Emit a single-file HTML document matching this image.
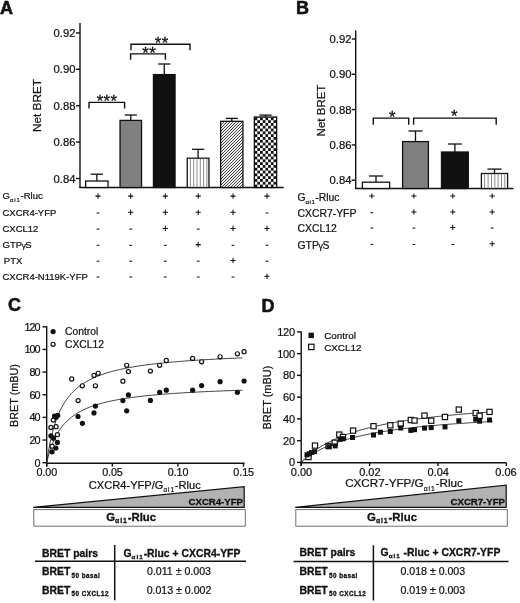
<!DOCTYPE html>
<html><head><meta charset="utf-8"><title>Figure</title>
<style>
html,body{margin:0;padding:0;background:#fff;}
body{width:520px;height:603px;overflow:hidden;font-family:"Liberation Sans",sans-serif;}
svg{display:block;will-change:transform;font-family:"Liberation Sans",sans-serif;fill:#111;}
text{stroke:#111;stroke-width:0.22px;}
</style></head><body>
<svg width="520" height="603" viewBox="0 0 520 603">
<defs>
<pattern id="vl" width="3" height="3" patternUnits="userSpaceOnUse"><rect width="3" height="3" fill="#fff"/><rect x="0" y="0" width="1" height="3" fill="#222"/></pattern>
<pattern id="dg" width="3" height="3" patternUnits="userSpaceOnUse" patternTransform="translate(0.86,0)"><rect width="3" height="3" fill="#fff"/><path d="M-0.75,0.75 L0.75,-0.75 M-0.5,3.5 L3.5,-0.5 M2.25,3.75 L3.75,2.25" stroke="#111" stroke-width="0.92"/></pattern>
<pattern id="ck" width="5.4" height="5.6" patternUnits="userSpaceOnUse" patternTransform="translate(254.65,117.4)"><rect width="5.4" height="5.6" fill="#fff"/><rect x="0" y="0" width="2.7" height="2.8" fill="#111"/><rect x="2.7" y="2.8" width="2.7" height="2.8" fill="#111"/></pattern>
</defs>
<rect width="520" height="603" fill="#fff"/>

<text x="0" y="14" font-size="18" text-anchor="start" font-weight="bold"  style="stroke-width:0.55px">A</text>
<text x="296" y="14" font-size="18" text-anchor="start" font-weight="bold"  style="stroke-width:0.55px">B</text>
<text x="8" y="311.4" font-size="18" text-anchor="start" font-weight="bold"  style="stroke-width:0.55px">C</text>
<text x="261.4" y="311.5" font-size="18" text-anchor="start" font-weight="bold"  style="stroke-width:0.55px">D</text>
<line x1="80" y1="23" x2="80" y2="188.1" stroke="#111" stroke-width="1.4" />
<line x1="79.4" y1="187.5" x2="283.7" y2="187.5" stroke="#111" stroke-width="1.4" />
<line x1="76" y1="32.899999999999864" x2="80" y2="32.899999999999864" stroke="#111" stroke-width="1.4" />
<text x="75.5" y="36.899999999999864" font-size="11.3" text-anchor="end" font-weight="normal" >0.92</text>
<line x1="76" y1="69.2999999999999" x2="80" y2="69.2999999999999" stroke="#111" stroke-width="1.4" />
<text x="75.5" y="73.2999999999999" font-size="11.3" text-anchor="end" font-weight="normal" >0.90</text>
<line x1="76" y1="105.69999999999993" x2="80" y2="105.69999999999993" stroke="#111" stroke-width="1.4" />
<text x="75.5" y="109.69999999999993" font-size="11.3" text-anchor="end" font-weight="normal" >0.88</text>
<line x1="76" y1="142.09999999999997" x2="80" y2="142.09999999999997" stroke="#111" stroke-width="1.4" />
<text x="75.5" y="146.09999999999997" font-size="11.3" text-anchor="end" font-weight="normal" >0.86</text>
<line x1="76" y1="178.5" x2="80" y2="178.5" stroke="#111" stroke-width="1.4" />
<text x="75.5" y="182.5" font-size="11.3" text-anchor="end" font-weight="normal" >0.84</text>
<text transform="translate(40.5,105.5) rotate(-90)" font-size="11.8" text-anchor="middle">Net BRET</text>
<line x1="96.85" y1="174.2" x2="96.85" y2="181" stroke="#111" stroke-width="1.3" />
<line x1="90.75" y1="174.2" x2="102.94999999999999" y2="174.2" stroke="#111" stroke-width="1.3" />
<rect x="85.65" y="181" width="22.39999999999999" height="6.5" fill="#fff" stroke="#111" stroke-width="1.3"/>
<line x1="130.8" y1="115" x2="130.8" y2="120.4" stroke="#111" stroke-width="1.3" />
<line x1="124.70000000000002" y1="115" x2="136.9" y2="115" stroke="#111" stroke-width="1.3" />
<rect x="120.05" y="120.4" width="21.500000000000014" height="67.1" fill="#808080" stroke="#111" stroke-width="1.3"/>
<line x1="164.25" y1="64" x2="164.25" y2="74.6" stroke="#111" stroke-width="1.3" />
<line x1="158.15" y1="64" x2="170.35" y2="64" stroke="#111" stroke-width="1.3" />
<rect x="153.45" y="74.6" width="21.600000000000023" height="112.9" fill="#111" stroke="#111" stroke-width="1.3"/>
<line x1="198.1" y1="149.3" x2="198.1" y2="158.2" stroke="#111" stroke-width="1.3" />
<line x1="192.0" y1="149.3" x2="204.2" y2="149.3" stroke="#111" stroke-width="1.3" />
<rect x="187.25" y="158.2" width="21.69999999999999" height="29.30000000000001" fill="#fff" stroke="#111" stroke-width="1.3"/>
<line x1="190.4" y1="158.2" x2="190.4" y2="187.5" stroke="#777" stroke-width="0.85"/>
<line x1="193.7" y1="158.2" x2="193.7" y2="187.5" stroke="#777" stroke-width="0.85"/>
<line x1="197" y1="158.2" x2="197" y2="187.5" stroke="#777" stroke-width="0.85"/>
<line x1="200.3" y1="158.2" x2="200.3" y2="187.5" stroke="#777" stroke-width="0.85"/>
<line x1="203.6" y1="158.2" x2="203.6" y2="187.5" stroke="#777" stroke-width="0.85"/>
<line x1="206.9" y1="158.2" x2="206.9" y2="187.5" stroke="#777" stroke-width="0.85"/>
<line x1="231.8" y1="118.4" x2="231.8" y2="121.3" stroke="#111" stroke-width="1.3" />
<line x1="225.70000000000002" y1="118.4" x2="237.9" y2="118.4" stroke="#111" stroke-width="1.3" />
<rect x="220.65" y="121.3" width="22.299999999999983" height="66.2" fill="url(#dg)" stroke="#111" stroke-width="1.3"/>
<line x1="265.5" y1="115.1" x2="265.5" y2="117" stroke="#111" stroke-width="1.3" />
<line x1="259.4" y1="115.1" x2="271.6" y2="115.1" stroke="#111" stroke-width="1.3" />
<rect x="254.35" y="117" width="22.299999999999983" height="70.5" fill="url(#ck)" stroke="#111" stroke-width="1.3"/>
<path d="M89,108.4 L89,102.4 L124.6,102.4 L124.6,108.4" fill="none" stroke="#111" stroke-width="1.4"/>
<text x="107" y="107" font-size="16.8" text-anchor="middle" font-weight="normal" letter-spacing="0.3" style="stroke-width:0.3px">***</text>
<path d="M131,50.3 L131,44.3 L190,44.3 L190,50.3" fill="none" stroke="#111" stroke-width="1.4"/>
<text x="161.7" y="49.4" font-size="16.8" text-anchor="middle" font-weight="normal" letter-spacing="0.3" style="stroke-width:0.3px">**</text>
<path d="M130.6,59.699999999999996 L130.6,53.9 L165.4,53.9 L165.4,59.699999999999996" fill="none" stroke="#111" stroke-width="1.4"/>
<text x="149.2" y="59.1" font-size="16.8" text-anchor="middle" font-weight="normal" letter-spacing="0.3" style="stroke-width:0.3px">**</text>
<text transform="translate(2.5,199.3) scale(1,1)" font-size="9.5">G<tspan font-size="0.62em" dy="2.2" letter-spacing="0.9">&#945;i1</tspan><tspan dy="-2.2">-Rluc</tspan></text>
<text transform="translate(2.5,215.5) scale(1,1)" font-size="9.5">CXCR4-YFP</text>
<text transform="translate(2.5,231.60000000000002) scale(1,1)" font-size="9.5">CXCL12</text>
<text transform="translate(2.5,247.8) scale(1,1)" font-size="9.5">GTP<tspan font-size="0.85em" dx="-0.3">&#947;</tspan><tspan dx="-0.4">S</tspan></text>
<text transform="translate(3.8,263.7) scale(1,1)" font-size="9.5">PTX</text>
<text transform="translate(2.5,279.5) scale(1,1)" font-size="9.5">CXCR4-N119K-YFP</text>
<path d="M95.4,196.1 H100.6 M98,193.5 V198.7" stroke="#111" stroke-width="1.05" fill="none"/>
<path d="M128.1,196.1 H133.29999999999998 M130.7,193.5 V198.7" stroke="#111" stroke-width="1.05" fill="none"/>
<path d="M162.70000000000002,196.1 H167.9 M165.3,193.5 V198.7" stroke="#111" stroke-width="1.05" fill="none"/>
<path d="M195.6,196.1 H200.79999999999998 M198.2,193.5 V198.7" stroke="#111" stroke-width="1.05" fill="none"/>
<path d="M230.4,196.1 H235.6 M233,193.5 V198.7" stroke="#111" stroke-width="1.05" fill="none"/>
<path d="M264.4,196.1 H269.6 M267,193.5 V198.7" stroke="#111" stroke-width="1.05" fill="none"/>
<path d="M96.6,213.0 H99.4" stroke="#111" stroke-width="1.05" fill="none"/>
<path d="M128.1,212.29999999999998 H133.29999999999998 M130.7,209.7 V214.89999999999998" stroke="#111" stroke-width="1.05" fill="none"/>
<path d="M162.70000000000002,212.29999999999998 H167.9 M165.3,209.7 V214.89999999999998" stroke="#111" stroke-width="1.05" fill="none"/>
<path d="M195.6,212.29999999999998 H200.79999999999998 M198.2,209.7 V214.89999999999998" stroke="#111" stroke-width="1.05" fill="none"/>
<path d="M230.4,212.29999999999998 H235.6 M233,209.7 V214.89999999999998" stroke="#111" stroke-width="1.05" fill="none"/>
<path d="M265.6,213.0 H268.4" stroke="#111" stroke-width="1.05" fill="none"/>
<path d="M96.6,229.10000000000002 H99.4" stroke="#111" stroke-width="1.05" fill="none"/>
<path d="M129.29999999999998,229.10000000000002 H132.1" stroke="#111" stroke-width="1.05" fill="none"/>
<path d="M162.70000000000002,228.4 H167.9 M165.3,225.8 V231.0" stroke="#111" stroke-width="1.05" fill="none"/>
<path d="M196.79999999999998,229.10000000000002 H199.6" stroke="#111" stroke-width="1.05" fill="none"/>
<path d="M230.4,228.4 H235.6 M233,225.8 V231.0" stroke="#111" stroke-width="1.05" fill="none"/>
<path d="M264.4,228.4 H269.6 M267,225.8 V231.0" stroke="#111" stroke-width="1.05" fill="none"/>
<path d="M96.6,245.3 H99.4" stroke="#111" stroke-width="1.05" fill="none"/>
<path d="M129.29999999999998,245.3 H132.1" stroke="#111" stroke-width="1.05" fill="none"/>
<path d="M163.9,245.3 H166.70000000000002" stroke="#111" stroke-width="1.05" fill="none"/>
<path d="M195.6,244.6 H200.79999999999998 M198.2,242 V247.2" stroke="#111" stroke-width="1.05" fill="none"/>
<path d="M231.6,245.3 H234.4" stroke="#111" stroke-width="1.05" fill="none"/>
<path d="M265.6,245.3 H268.4" stroke="#111" stroke-width="1.05" fill="none"/>
<path d="M96.6,261.2 H99.4" stroke="#111" stroke-width="1.05" fill="none"/>
<path d="M129.29999999999998,261.2 H132.1" stroke="#111" stroke-width="1.05" fill="none"/>
<path d="M163.9,261.2 H166.70000000000002" stroke="#111" stroke-width="1.05" fill="none"/>
<path d="M196.79999999999998,261.2 H199.6" stroke="#111" stroke-width="1.05" fill="none"/>
<path d="M230.4,260.5 H235.6 M233,257.9 V263.09999999999997" stroke="#111" stroke-width="1.05" fill="none"/>
<path d="M265.6,261.2 H268.4" stroke="#111" stroke-width="1.05" fill="none"/>
<path d="M96.6,277.0 H99.4" stroke="#111" stroke-width="1.05" fill="none"/>
<path d="M129.29999999999998,277.0 H132.1" stroke="#111" stroke-width="1.05" fill="none"/>
<path d="M163.9,277.0 H166.70000000000002" stroke="#111" stroke-width="1.05" fill="none"/>
<path d="M196.79999999999998,277.0 H199.6" stroke="#111" stroke-width="1.05" fill="none"/>
<path d="M231.6,277.0 H234.4" stroke="#111" stroke-width="1.05" fill="none"/>
<path d="M264.4,276.3 H269.6 M267,273.7 V278.9" stroke="#111" stroke-width="1.05" fill="none"/>
<line x1="355.7" y1="30.5" x2="355.7" y2="189.1" stroke="#111" stroke-width="1.4" />
<line x1="355.09999999999997" y1="188.5" x2="513.5" y2="188.5" stroke="#111" stroke-width="1.4" />
<line x1="351.7" y1="38.99999999999986" x2="355.7" y2="38.99999999999986" stroke="#111" stroke-width="1.4" />
<text x="351.5" y="42.99999999999986" font-size="11.3" text-anchor="end" font-weight="normal" >0.92</text>
<line x1="351.7" y1="74.2999999999999" x2="355.7" y2="74.2999999999999" stroke="#111" stroke-width="1.4" />
<text x="351.5" y="78.2999999999999" font-size="11.3" text-anchor="end" font-weight="normal" >0.90</text>
<line x1="351.7" y1="109.59999999999992" x2="355.7" y2="109.59999999999992" stroke="#111" stroke-width="1.4" />
<text x="351.5" y="113.59999999999992" font-size="11.3" text-anchor="end" font-weight="normal" >0.88</text>
<line x1="351.7" y1="144.89999999999995" x2="355.7" y2="144.89999999999995" stroke="#111" stroke-width="1.4" />
<text x="351.5" y="148.89999999999995" font-size="11.3" text-anchor="end" font-weight="normal" >0.86</text>
<line x1="351.7" y1="180.2" x2="355.7" y2="180.2" stroke="#111" stroke-width="1.4" />
<text x="351.5" y="184.2" font-size="11.3" text-anchor="end" font-weight="normal" >0.84</text>
<text transform="translate(325,110.5) rotate(-90)" font-size="11.5" text-anchor="middle">Net BRET</text>
<line x1="376.0" y1="176" x2="376.0" y2="182.2" stroke="#111" stroke-width="1.3" />
<line x1="369.0" y1="176" x2="383.0" y2="176" stroke="#111" stroke-width="1.3" />
<rect x="362.4" y="182.2" width="27.200000000000045" height="6.300000000000011" fill="#fff" stroke="#111" stroke-width="1.3"/>
<line x1="415.5" y1="131" x2="415.5" y2="141.6" stroke="#111" stroke-width="1.3" />
<line x1="408.5" y1="131" x2="422.5" y2="131" stroke="#111" stroke-width="1.3" />
<rect x="402.6" y="141.6" width="25.799999999999955" height="46.900000000000006" fill="#808080" stroke="#111" stroke-width="1.3"/>
<line x1="454.9" y1="144" x2="454.9" y2="152" stroke="#111" stroke-width="1.3" />
<line x1="447.9" y1="144" x2="461.9" y2="144" stroke="#111" stroke-width="1.3" />
<rect x="441.5" y="152" width="26.80000000000001" height="36.5" fill="#111" stroke="#111" stroke-width="1.3"/>
<line x1="494.5" y1="169.1" x2="494.5" y2="173.5" stroke="#111" stroke-width="1.3" />
<line x1="487.5" y1="169.1" x2="501.5" y2="169.1" stroke="#111" stroke-width="1.3" />
<rect x="481.4" y="173.5" width="26.200000000000045" height="15.0" fill="#fff" stroke="#111" stroke-width="1.3"/>
<line x1="484.6" y1="173.5" x2="484.6" y2="188.5" stroke="#777" stroke-width="0.85"/>
<line x1="488.1" y1="173.5" x2="488.1" y2="188.5" stroke="#777" stroke-width="0.85"/>
<line x1="491.5" y1="173.5" x2="491.5" y2="188.5" stroke="#777" stroke-width="0.85"/>
<line x1="494.8" y1="173.5" x2="494.8" y2="188.5" stroke="#777" stroke-width="0.85"/>
<line x1="498.1" y1="173.5" x2="498.1" y2="188.5" stroke="#777" stroke-width="0.85"/>
<line x1="501.5" y1="173.5" x2="501.5" y2="188.5" stroke="#777" stroke-width="0.85"/>
<line x1="504.8" y1="173.5" x2="504.8" y2="188.5" stroke="#777" stroke-width="0.85"/>
<path d="M373.3,124.69999999999999 L373.3,118.1 L408.7,118.1 L408.7,124.69999999999999" fill="none" stroke="#111" stroke-width="1.4"/>
<text x="392.2" y="122.9" font-size="16.8" text-anchor="middle" font-weight="normal"  style="stroke-width:0.3px">*</text>
<path d="M413.6,124.69999999999999 L413.6,118.1 L496.2,118.1 L496.2,124.69999999999999" fill="none" stroke="#111" stroke-width="1.4"/>
<text x="454.2" y="121.8" font-size="16.8" text-anchor="middle" font-weight="normal"  style="stroke-width:0.3px">*</text>
<text x="297.5" y="201.1" font-size="10.4" text-anchor="start" font-weight="normal" >G<tspan font-size="0.6em" dy="2.6" letter-spacing="0.4">&#945;i1</tspan><tspan dy="-2.6">-Rluc</tspan></text>
<text x="297.5" y="216.60000000000002" font-size="10.4" text-anchor="start" font-weight="normal" >CXCR7-YFP</text>
<text x="297.5" y="232.10000000000002" font-size="10.4" text-anchor="start" font-weight="normal" >CXCL12</text>
<text x="297.5" y="248.5" font-size="10.4" text-anchor="start" font-weight="normal" >GTP<tspan font-size="0.85em" dx="-0.3">&#947;</tspan><tspan dx="-0.4">S</tspan></text>
<path d="M369.2,196.0 H374.40000000000003 M371.8,193.4 V198.6" stroke="#111" stroke-width="1.05" fill="none"/>
<path d="M411.29999999999995,196.0 H416.5 M413.9,193.4 V198.6" stroke="#111" stroke-width="1.05" fill="none"/>
<path d="M450.2,196.0 H455.40000000000003 M452.8,193.4 V198.6" stroke="#111" stroke-width="1.05" fill="none"/>
<path d="M489.59999999999997,196.0 H494.8 M492.2,193.4 V198.6" stroke="#111" stroke-width="1.05" fill="none"/>
<path d="M370.40000000000003,212.60000000000002 H373.2" stroke="#111" stroke-width="1.05" fill="none"/>
<path d="M411.29999999999995,211.9 H416.5 M413.9,209.3 V214.5" stroke="#111" stroke-width="1.05" fill="none"/>
<path d="M450.2,211.9 H455.40000000000003 M452.8,209.3 V214.5" stroke="#111" stroke-width="1.05" fill="none"/>
<path d="M489.59999999999997,211.9 H494.8 M492.2,209.3 V214.5" stroke="#111" stroke-width="1.05" fill="none"/>
<path d="M370.40000000000003,228.10000000000002 H373.2" stroke="#111" stroke-width="1.05" fill="none"/>
<path d="M412.5,228.10000000000002 H415.29999999999995" stroke="#111" stroke-width="1.05" fill="none"/>
<path d="M450.2,227.4 H455.40000000000003 M452.8,224.8 V230.0" stroke="#111" stroke-width="1.05" fill="none"/>
<path d="M490.8,228.10000000000002 H493.59999999999997" stroke="#111" stroke-width="1.05" fill="none"/>
<path d="M370.40000000000003,244.5 H373.2" stroke="#111" stroke-width="1.05" fill="none"/>
<path d="M412.5,244.5 H415.29999999999995" stroke="#111" stroke-width="1.05" fill="none"/>
<path d="M451.40000000000003,244.5 H454.2" stroke="#111" stroke-width="1.05" fill="none"/>
<path d="M489.59999999999997,243.79999999999998 H494.8 M492.2,241.2 V246.39999999999998" stroke="#111" stroke-width="1.05" fill="none"/>
<line x1="46.7" y1="326.2" x2="46.7" y2="466.59999999999997" stroke="#111" stroke-width="1.4" />
<line x1="46.0" y1="463.3" x2="244.6" y2="463.3" stroke="#111" stroke-width="1.4" />
<line x1="42.5" y1="462.7" x2="46.7" y2="462.7" stroke="#111" stroke-width="1.4" />
<text x="39.4" y="466.5" font-size="10.8" text-anchor="end" letter-spacing="-1.0">0</text>
<line x1="42.5" y1="440.05" x2="46.7" y2="440.05" stroke="#111" stroke-width="1.4" />
<text x="39.4" y="443.85" font-size="10.8" text-anchor="end" letter-spacing="-1.0">20</text>
<line x1="42.5" y1="417.4" x2="46.7" y2="417.4" stroke="#111" stroke-width="1.4" />
<text x="39.4" y="421.2" font-size="10.8" text-anchor="end" letter-spacing="-1.0">40</text>
<line x1="42.5" y1="394.75" x2="46.7" y2="394.75" stroke="#111" stroke-width="1.4" />
<text x="39.4" y="398.55" font-size="10.8" text-anchor="end" letter-spacing="-1.0">60</text>
<line x1="42.5" y1="372.09999999999997" x2="46.7" y2="372.09999999999997" stroke="#111" stroke-width="1.4" />
<text x="39.4" y="375.9" font-size="10.8" text-anchor="end" letter-spacing="-1.0">80</text>
<line x1="42.5" y1="349.45" x2="46.7" y2="349.45" stroke="#111" stroke-width="1.4" />
<text x="39.4" y="353.25" font-size="10.8" text-anchor="end" letter-spacing="-1.0">100</text>
<line x1="42.5" y1="326.79999999999995" x2="46.7" y2="326.79999999999995" stroke="#111" stroke-width="1.4" />
<text x="39.4" y="330.59999999999997" font-size="10.8" text-anchor="end" letter-spacing="-1.0">120</text>
<line x1="46.7" y1="463.3" x2="46.7" y2="466.59999999999997" stroke="#111" stroke-width="1.4" />
<text x="46.85000000000001" y="476" font-size="10.8" text-anchor="middle" letter-spacing="-0.1">0.00</text>
<line x1="112.30000000000001" y1="463.3" x2="112.30000000000001" y2="466.59999999999997" stroke="#111" stroke-width="1.4" />
<text x="112.45000000000002" y="476" font-size="10.8" text-anchor="middle" letter-spacing="-0.1">0.05</text>
<line x1="177.90000000000003" y1="463.3" x2="177.90000000000003" y2="466.59999999999997" stroke="#111" stroke-width="1.4" />
<text x="178.05" y="476" font-size="10.8" text-anchor="middle" letter-spacing="-0.1">0.10</text>
<line x1="243.5" y1="463.3" x2="243.5" y2="466.59999999999997" stroke="#111" stroke-width="1.4" />
<text x="243.64999999999998" y="476" font-size="10.8" text-anchor="middle" letter-spacing="-0.1">0.15</text>
<text transform="translate(17.8,395.5) rotate(-90)" font-size="10.8" text-anchor="middle">BRET (mBU)</text>
<text x="144.8" y="488.5" font-size="11.1" text-anchor="middle" font-weight="normal" >CXCR4-YFP/G<tspan font-size="0.58em" dy="3.1" letter-spacing="0.9">&#945;i1</tspan><tspan dy="-3.1">-Rluc</tspan></text>
<polyline points="46.70,462.70 46.88,461.44 47.24,458.98 47.72,455.79 48.32,452.12 49.02,448.17 49.80,444.05 50.67,439.89 51.62,435.75 52.64,431.69 53.73,427.75 54.88,423.96 56.11,420.34 57.39,416.90 58.74,413.63 60.14,410.54 61.61,407.62 63.12,404.88 64.70,402.29 66.32,399.86 68.00,397.58 69.73,395.43 71.51,393.42 73.34,391.52 75.22,389.73 77.14,388.06 79.11,386.48 81.13,384.99 83.19,383.58 85.30,382.26 87.45,381.01 89.65,379.83 91.89,378.71 94.17,377.66 96.49,376.66 98.85,375.71 101.26,374.81 103.70,373.96 106.19,373.15 108.71,372.38 111.27,371.65 113.88,370.95 116.52,370.29 119.20,369.66 121.91,369.05 124.66,368.48 127.46,367.93 130.28,367.40 133.15,366.90 136.05,366.42 138.98,365.96 141.95,365.51 144.96,365.09 148.00,364.68 151.07,364.29 154.18,363.92 157.33,363.56 160.50,363.21 163.72,362.88 166.96,362.56 170.24,362.25 173.55,361.95 176.89,361.67 180.27,361.39 183.68,361.12 187.12,360.87 190.59,360.62 194.09,360.38 197.63,360.15 201.20,359.92 204.79,359.71 208.42,359.50 212.08,359.29 215.77,359.10 219.49,358.91 223.25,358.72 227.03,358.54 230.84,358.37 234.68,358.20 238.55,358.04 242.45,357.88" fill="none" stroke="#222" stroke-width="0.85"/>
<polyline points="46.70,462.70 46.88,461.95 47.24,460.46 47.72,458.52 48.32,456.27 49.02,453.82 49.80,451.24 50.67,448.61 51.62,445.96 52.64,443.34 53.73,440.76 54.88,438.26 56.11,435.85 57.39,433.53 58.74,431.31 60.14,429.20 61.61,427.19 63.12,425.28 64.70,423.47 66.32,421.75 68.00,420.13 69.73,418.60 71.51,417.15 73.34,415.78 75.22,414.48 77.14,413.26 79.11,412.10 81.13,411.00 83.19,409.97 85.30,408.99 87.45,408.05 89.65,407.17 91.89,406.34 94.17,405.54 96.49,404.79 98.85,404.07 101.26,403.39 103.70,402.74 106.19,402.13 108.71,401.54 111.27,400.98 113.88,400.45 116.52,399.94 119.20,399.45 121.91,398.99 124.66,398.54 127.46,398.12 130.28,397.71 133.15,397.32 136.05,396.94 138.98,396.58 141.95,396.24 144.96,395.91 148.00,395.59 151.07,395.29 154.18,395.00 157.33,394.71 160.50,394.44 163.72,394.18 166.96,393.93 170.24,393.69 173.55,393.45 176.89,393.23 180.27,393.01 183.68,392.80 187.12,392.60 190.59,392.40 194.09,392.21 197.63,392.03 201.20,391.85 204.79,391.68 208.42,391.51 212.08,391.35 215.77,391.19 219.49,391.04 223.25,390.90 227.03,390.75 230.84,390.62 234.68,390.48 238.55,390.35 242.45,390.23" fill="none" stroke="#222" stroke-width="0.85"/>
<circle cx="71.7" cy="379" r="2.05" fill="#fff" stroke="#111" stroke-width="1.2"/>
<circle cx="82.3" cy="385.8" r="2.05" fill="#fff" stroke="#111" stroke-width="1.2"/>
<circle cx="94" cy="375.4" r="2.05" fill="#fff" stroke="#111" stroke-width="1.2"/>
<circle cx="98.2" cy="373.3" r="2.05" fill="#fff" stroke="#111" stroke-width="1.2"/>
<circle cx="95.4" cy="385.8" r="2.05" fill="#fff" stroke="#111" stroke-width="1.2"/>
<circle cx="78.1" cy="400.6" r="2.05" fill="#fff" stroke="#111" stroke-width="1.2"/>
<circle cx="126.7" cy="365.3" r="2.05" fill="#fff" stroke="#111" stroke-width="1.2"/>
<circle cx="128.4" cy="371.6" r="2.05" fill="#fff" stroke="#111" stroke-width="1.2"/>
<circle cx="122.9" cy="381.2" r="2.05" fill="#fff" stroke="#111" stroke-width="1.2"/>
<circle cx="50.9" cy="427.4" r="2.05" fill="#fff" stroke="#111" stroke-width="1.2"/>
<circle cx="53.3" cy="420.1" r="2.05" fill="#fff" stroke="#111" stroke-width="1.2"/>
<circle cx="56.1" cy="426.7" r="2.05" fill="#fff" stroke="#111" stroke-width="1.2"/>
<circle cx="57.4" cy="434.7" r="2.05" fill="#fff" stroke="#111" stroke-width="1.2"/>
<circle cx="52.1" cy="446.2" r="2.05" fill="#fff" stroke="#111" stroke-width="1.2"/>
<circle cx="150.4" cy="371.1" r="2.05" fill="#fff" stroke="#111" stroke-width="1.2"/>
<circle cx="159.6" cy="365.3" r="2.05" fill="#fff" stroke="#111" stroke-width="1.2"/>
<circle cx="166.3" cy="360.5" r="2.05" fill="#fff" stroke="#111" stroke-width="1.2"/>
<circle cx="192.6" cy="358.4" r="2.05" fill="#fff" stroke="#111" stroke-width="1.2"/>
<circle cx="201.6" cy="361.8" r="2.05" fill="#fff" stroke="#111" stroke-width="1.2"/>
<circle cx="220.1" cy="356.8" r="2.05" fill="#fff" stroke="#111" stroke-width="1.2"/>
<circle cx="237.4" cy="353.8" r="2.05" fill="#fff" stroke="#111" stroke-width="1.2"/>
<circle cx="244.1" cy="351.7" r="2.05" fill="#fff" stroke="#111" stroke-width="1.2"/>
<circle cx="78" cy="416.5" r="2.6" fill="#111"/>
<circle cx="82.4" cy="423.3" r="2.6" fill="#111"/>
<circle cx="94" cy="412.9" r="2.6" fill="#111"/>
<circle cx="95.4" cy="406.1" r="2.6" fill="#111"/>
<circle cx="122.9" cy="400.6" r="2.6" fill="#111"/>
<circle cx="128.4" cy="394.9" r="2.6" fill="#111"/>
<circle cx="126.7" cy="410.8" r="2.6" fill="#111"/>
<circle cx="54.5" cy="416" r="2.6" fill="#111"/>
<circle cx="57.7" cy="415.4" r="2.6" fill="#111"/>
<circle cx="56.1" cy="417.3" r="2.6" fill="#111"/>
<circle cx="50.9" cy="435.8" r="2.6" fill="#111"/>
<circle cx="53.5" cy="438.2" r="2.6" fill="#111"/>
<circle cx="57.4" cy="442.4" r="2.6" fill="#111"/>
<circle cx="55.9" cy="448" r="2.6" fill="#111"/>
<circle cx="52.1" cy="451.8" r="2.6" fill="#111"/>
<circle cx="150.4" cy="400.4" r="2.6" fill="#111"/>
<circle cx="159.6" cy="392.3" r="2.6" fill="#111"/>
<circle cx="166.3" cy="390.2" r="2.6" fill="#111"/>
<circle cx="192.6" cy="390.2" r="2.6" fill="#111"/>
<circle cx="201.6" cy="385.6" r="2.6" fill="#111"/>
<circle cx="220.1" cy="381.7" r="2.6" fill="#111"/>
<circle cx="237.4" cy="392.3" r="2.6" fill="#111"/>
<circle cx="244.1" cy="381" r="2.6" fill="#111"/>
<circle cx="53.1" cy="331.6" r="2.6" fill="#111"/>
<circle cx="53.1" cy="344.3" r="2.05" fill="#fff" stroke="#111" stroke-width="1.2"/>
<text x="65" y="335" font-size="10.3" text-anchor="start" font-weight="normal" >Control</text>
<text x="65" y="348" font-size="10.3" text-anchor="start" font-weight="normal" >CXCL12</text>
<path d="M33.2,507.4 L244.2,486.6 L244.2,507.4 Z" fill="#b2b2b2" stroke="#111" stroke-width="1.2" stroke-linejoin="miter"/>
<text x="243" y="505.4" font-size="9.7" text-anchor="end" font-weight="bold" letter-spacing="-0.05" style="stroke-width:0.3px">CXCR4-YFP</text>
<rect x="33.8" y="509.6" width="211.5" height="16.6" fill="#fff" stroke="#707070" stroke-width="1"/>
<text x="131.2" y="520.8" font-size="11.4" text-anchor="middle" font-weight="bold"  style="stroke-width:0.3px">G<tspan font-size="0.6em" dy="2.6" letter-spacing="0.9">&#945;i1</tspan><tspan dy="-2.6">-Rluc</tspan></text>
<line x1="35" y1="561.2" x2="246" y2="561.2" stroke="#111" stroke-width="1.5" />
<line x1="114.7" y1="545" x2="114.7" y2="600.3" stroke="#111" stroke-width="1.5" />
<text x="42" y="556.6" font-size="10.4" text-anchor="start" font-weight="bold"  style="stroke-width:0.3px">BRET pairs</text>
<text x="123.5" y="556.6" font-size="10.4" text-anchor="start" font-weight="bold"  style="stroke-width:0.3px">G<tspan font-size="0.6em" dy="2.4" letter-spacing="1.0">&#945;i1</tspan><tspan dy="-2.4">-Rluc + CXCR4-YFP</tspan></text>
<text x="42" y="574.6" font-size="10.4" font-weight="bold" style="stroke-width:0.3px">BRET<tspan font-size="6.3" dy="2.9" dx="1.2" letter-spacing="0.5">50 basal</tspan></text>
<text x="42" y="593.5" font-size="10.4" font-weight="bold" style="stroke-width:0.3px">BRET<tspan font-size="6.3" dy="2.9" dx="1.2" letter-spacing="0.5">50 CXCL12</tspan></text>
<text x="179" y="575.3" font-size="10.6" text-anchor="middle" font-weight="normal" >0.011 &#177; 0.003</text>
<text x="179" y="594.2" font-size="10.6" text-anchor="middle" font-weight="normal" >0.013 &#177; 0.002</text>
<line x1="301.2" y1="331.2" x2="301.2" y2="466.0" stroke="#111" stroke-width="1.4" />
<line x1="300.5" y1="462.7" x2="506.4" y2="462.7" stroke="#111" stroke-width="1.4" />
<line x1="297.0" y1="462.4" x2="301.2" y2="462.4" stroke="#111" stroke-width="1.4" />
<text x="295.05" y="466.29999999999995" font-size="11" text-anchor="end" letter-spacing="-0.15">0</text>
<line x1="297.0" y1="440.65" x2="301.2" y2="440.65" stroke="#111" stroke-width="1.4" />
<text x="295.05" y="444.54999999999995" font-size="11" text-anchor="end" letter-spacing="-0.15">20</text>
<line x1="297.0" y1="418.9" x2="301.2" y2="418.9" stroke="#111" stroke-width="1.4" />
<text x="295.05" y="422.79999999999995" font-size="11" text-anchor="end" letter-spacing="-0.15">40</text>
<line x1="297.0" y1="397.15" x2="301.2" y2="397.15" stroke="#111" stroke-width="1.4" />
<text x="295.05" y="401.04999999999995" font-size="11" text-anchor="end" letter-spacing="-0.15">60</text>
<line x1="297.0" y1="375.4" x2="301.2" y2="375.4" stroke="#111" stroke-width="1.4" />
<text x="295.05" y="379.29999999999995" font-size="11" text-anchor="end" letter-spacing="-0.15">80</text>
<line x1="297.0" y1="353.65" x2="301.2" y2="353.65" stroke="#111" stroke-width="1.4" />
<text x="295.05" y="357.54999999999995" font-size="11" text-anchor="end" letter-spacing="-0.15">100</text>
<line x1="297.0" y1="331.9" x2="301.2" y2="331.9" stroke="#111" stroke-width="1.4" />
<text x="295.05" y="335.79999999999995" font-size="11" text-anchor="end" letter-spacing="-0.15">120</text>
<line x1="301.2" y1="462.7" x2="301.2" y2="466.0" stroke="#111" stroke-width="1.4" />
<text x="301.5" y="476.1" font-size="11" text-anchor="middle" letter-spacing="0">0.00</text>
<line x1="369.6" y1="462.7" x2="369.6" y2="466.0" stroke="#111" stroke-width="1.4" />
<text x="369.90000000000003" y="476.1" font-size="11" text-anchor="middle" letter-spacing="0">0.02</text>
<line x1="438.0" y1="462.7" x2="438.0" y2="466.0" stroke="#111" stroke-width="1.4" />
<text x="438.3" y="476.1" font-size="11" text-anchor="middle" letter-spacing="0">0.04</text>
<line x1="506.4" y1="462.7" x2="506.4" y2="466.0" stroke="#111" stroke-width="1.4" />
<text x="506.0" y="476.1" font-size="11" text-anchor="middle" letter-spacing="0">0.06</text>
<text transform="translate(271,397.5) rotate(-90)" font-size="11" text-anchor="middle">BRET (mBU)</text>
<text x="404" y="487.4" font-size="11.7" text-anchor="middle" font-weight="normal" >CXCR7-YFP/G<tspan font-size="0.58em" dy="3.1" letter-spacing="0.9">&#945;i1</tspan><tspan dy="-3.1">-Rluc</tspan></text>
<polyline points="301.20,462.40 301.37,462.22 301.72,461.86 302.20,461.37 302.79,460.78 303.47,460.12 304.24,459.38 305.09,458.58 306.01,457.73 307.01,456.84 308.07,455.92 309.21,454.97 310.40,453.99 311.66,453.01 312.98,452.00 314.35,450.99 315.78,449.98 317.27,448.97 318.81,447.96 320.40,446.95 322.04,445.95 323.73,444.96 325.47,443.97 327.26,443.00 329.10,442.05 330.98,441.11 332.91,440.18 334.89,439.27 336.90,438.37 338.97,437.50 341.07,436.64 343.22,435.79 345.41,434.97 347.64,434.16 349.91,433.37 352.22,432.60 354.58,431.85 356.97,431.11 359.40,430.39 361.87,429.69 364.38,429.00 366.92,428.33 369.51,427.68 372.13,427.04 374.79,426.42 377.48,425.81 380.21,425.22 382.98,424.65 385.78,424.09 388.61,423.54 391.49,423.00 394.39,422.48 397.33,421.97 400.31,421.48 403.32,421.00 406.36,420.52 409.44,420.06 412.54,419.62 415.69,419.18 418.86,418.75 422.07,418.34 425.31,417.93 428.58,417.54 431.88,417.15 435.22,416.77 438.58,416.40 441.98,416.04 445.41,415.69 448.87,415.35 452.36,415.02 455.88,414.69 459.43,414.37 463.01,414.06 466.62,413.76 470.26,413.46 473.93,413.17 477.63,412.89 481.36,412.61 485.12,412.34 488.90,412.07 492.72,411.81" fill="none" stroke="#222" stroke-width="0.85"/>
<polyline points="301.20,462.40 301.37,462.25 301.72,461.94 302.20,461.53 302.79,461.04 303.47,460.48 304.24,459.86 305.09,459.19 306.01,458.48 307.01,457.74 308.07,456.97 309.21,456.18 310.40,455.37 311.66,454.55 312.98,453.72 314.35,452.89 315.78,452.05 317.27,451.21 318.81,450.38 320.40,449.55 322.04,448.73 323.73,447.92 325.47,447.11 327.26,446.32 329.10,445.54 330.98,444.78 332.91,444.02 334.89,443.28 336.90,442.56 338.97,441.85 341.07,441.15 343.22,440.47 345.41,439.81 347.64,439.16 349.91,438.52 352.22,437.90 354.58,437.30 356.97,436.71 359.40,436.13 361.87,435.57 364.38,435.03 366.92,434.49 369.51,433.97 372.13,433.46 374.79,432.97 377.48,432.49 380.21,432.02 382.98,431.56 385.78,431.12 388.61,430.69 391.49,430.26 394.39,429.85 397.33,429.45 400.31,429.06 403.32,428.68 406.36,428.31 409.44,427.95 412.54,427.59 415.69,427.25 418.86,426.92 422.07,426.59 425.31,426.27 428.58,425.96 431.88,425.66 435.22,425.36 438.58,425.08 441.98,424.80 445.41,424.52 448.87,424.25 452.36,423.99 455.88,423.74 459.43,423.49 463.01,423.25 466.62,423.01 470.26,422.78 473.93,422.55 477.63,422.33 481.36,422.12 485.12,421.91 488.90,421.70 492.72,421.50" fill="none" stroke="#222" stroke-width="0.85"/>
<rect x="305.9" y="454.5" width="5.2" height="5.2" fill="#fff" stroke="#111" stroke-width="1.2"/>
<rect x="312.4" y="443.0" width="5.2" height="5.2" fill="#fff" stroke="#111" stroke-width="1.2"/>
<rect x="336.7" y="432.0" width="5.2" height="5.2" fill="#fff" stroke="#111" stroke-width="1.2"/>
<rect x="340.4" y="434.4" width="5.2" height="5.2" fill="#fff" stroke="#111" stroke-width="1.2"/>
<rect x="350.5" y="428.0" width="5.2" height="5.2" fill="#fff" stroke="#111" stroke-width="1.2"/>
<rect x="370.9" y="423.59999999999997" width="5.2" height="5.2" fill="#fff" stroke="#111" stroke-width="1.2"/>
<rect x="387.7" y="422.7" width="5.2" height="5.2" fill="#fff" stroke="#111" stroke-width="1.2"/>
<rect x="398.09999999999997" y="421.09999999999997" width="5.2" height="5.2" fill="#fff" stroke="#111" stroke-width="1.2"/>
<rect x="408.2" y="417.4" width="5.2" height="5.2" fill="#fff" stroke="#111" stroke-width="1.2"/>
<rect x="332.09999999999997" y="440.09999999999997" width="5.2" height="5.2" fill="#fff" stroke="#111" stroke-width="1.2"/>
<rect x="325.9" y="443.4" width="5.2" height="5.2" fill="#fff" stroke="#111" stroke-width="1.2"/>
<rect x="411.9" y="417.9" width="5.2" height="5.2" fill="#fff" stroke="#111" stroke-width="1.2"/>
<rect x="421.9" y="413.0" width="5.2" height="5.2" fill="#fff" stroke="#111" stroke-width="1.2"/>
<rect x="428.59999999999997" y="418.09999999999997" width="5.2" height="5.2" fill="#fff" stroke="#111" stroke-width="1.2"/>
<rect x="442.4" y="414.4" width="5.2" height="5.2" fill="#fff" stroke="#111" stroke-width="1.2"/>
<rect x="456.2" y="407.0" width="5.2" height="5.2" fill="#fff" stroke="#111" stroke-width="1.2"/>
<rect x="473.09999999999997" y="410.5" width="5.2" height="5.2" fill="#fff" stroke="#111" stroke-width="1.2"/>
<rect x="477.0" y="413.2" width="5.2" height="5.2" fill="#fff" stroke="#111" stroke-width="1.2"/>
<rect x="486.9" y="409.29999999999995" width="5.2" height="5.2" fill="#fff" stroke="#111" stroke-width="1.2"/>
<rect x="304.5" y="452.3" width="5" height="5" fill="#111"/>
<rect x="306.8" y="451.2" width="5" height="5" fill="#111"/>
<rect x="309.1" y="450.0" width="5" height="5" fill="#111"/>
<rect x="312.0" y="449.2" width="5" height="5" fill="#111"/>
<rect x="326.4" y="444.2" width="5" height="5" fill="#111"/>
<rect x="332.7" y="443.4" width="5" height="5" fill="#111"/>
<rect x="337.9" y="436.7" width="5" height="5" fill="#111"/>
<rect x="340.8" y="436.2" width="5" height="5" fill="#111"/>
<rect x="350.0" y="435.0" width="5" height="5" fill="#111"/>
<rect x="371.0" y="432.5" width="5" height="5" fill="#111"/>
<rect x="377.9" y="429.7" width="5" height="5" fill="#111"/>
<rect x="387.8" y="429.0" width="5" height="5" fill="#111"/>
<rect x="398.2" y="425.5" width="5" height="5" fill="#111"/>
<rect x="408.3" y="427.9" width="5" height="5" fill="#111"/>
<rect x="412.0" y="427.2" width="5" height="5" fill="#111"/>
<rect x="422.0" y="425.6" width="5" height="5" fill="#111"/>
<rect x="428.7" y="425.1" width="5" height="5" fill="#111"/>
<rect x="442.5" y="424.4" width="5" height="5" fill="#111"/>
<rect x="456.3" y="418.2" width="5" height="5" fill="#111"/>
<rect x="473.2" y="416.8" width="5" height="5" fill="#111"/>
<rect x="477.1" y="418.7" width="5" height="5" fill="#111"/>
<rect x="487.0" y="417.5" width="5" height="5" fill="#111"/>
<rect x="308.5" y="332.7" width="5.4" height="5.4" fill="#111"/>
<rect x="308.6" y="344.2" width="5.4" height="5.4" fill="#fff" stroke="#111" stroke-width="1.2"/>
<text x="324.2" y="339.3" font-size="9.85" text-anchor="start" font-weight="normal" >Control</text>
<text x="324.2" y="350.6" font-size="9.85" text-anchor="start" font-weight="normal" >CXCL12</text>
<path d="M295.2,507.4 L506.2,485.2 L506.2,507.4 Z" fill="#b2b2b2" stroke="#111" stroke-width="1.2"/>
<text x="505" y="504.8" font-size="9.7" text-anchor="end" font-weight="bold" letter-spacing="-0.05" style="stroke-width:0.3px">CXCR7-YFP</text>
<rect x="295.8" y="509.6" width="211.5" height="16.6" fill="#fff" stroke="#707070" stroke-width="1"/>
<text x="392" y="520.6" font-size="11.4" text-anchor="middle" font-weight="bold"  style="stroke-width:0.3px">G<tspan font-size="0.6em" dy="2.6" letter-spacing="0.9">&#945;i1</tspan><tspan dy="-2.6">-Rluc</tspan></text>
<line x1="293.5" y1="561.5" x2="508.5" y2="561.5" stroke="#111" stroke-width="1.5" />
<line x1="373.4" y1="545.3" x2="373.4" y2="600.5" stroke="#111" stroke-width="1.5" />
<text x="299.4" y="556" font-size="10.4" text-anchor="start" font-weight="bold"  style="stroke-width:0.3px">BRET pairs</text>
<text x="380.6" y="556" font-size="10.4" text-anchor="start" font-weight="bold"  style="stroke-width:0.3px">G<tspan font-size="0.6em" dy="2.4" letter-spacing="1.0">&#945;i1</tspan><tspan dy="-2.4"> -Rluc + CXCR7-YFP</tspan></text>
<text x="299.4" y="574.6" font-size="10.4" font-weight="bold" style="stroke-width:0.3px">BRET<tspan font-size="6.3" dy="2.9" dx="1.2" letter-spacing="0.5">50 basal</tspan></text>
<text x="299.4" y="593.5" font-size="10.4" font-weight="bold" style="stroke-width:0.3px">BRET<tspan font-size="6.3" dy="2.9" dx="1.2" letter-spacing="0.5">50 CXCL12</tspan></text>
<text x="432.8" y="575.3" font-size="10.6" text-anchor="middle" font-weight="normal" >0.018 &#177; 0.003</text>
<text x="432.8" y="594.2" font-size="10.6" text-anchor="middle" font-weight="normal" >0.019 &#177; 0.003</text>
</svg></body></html>
